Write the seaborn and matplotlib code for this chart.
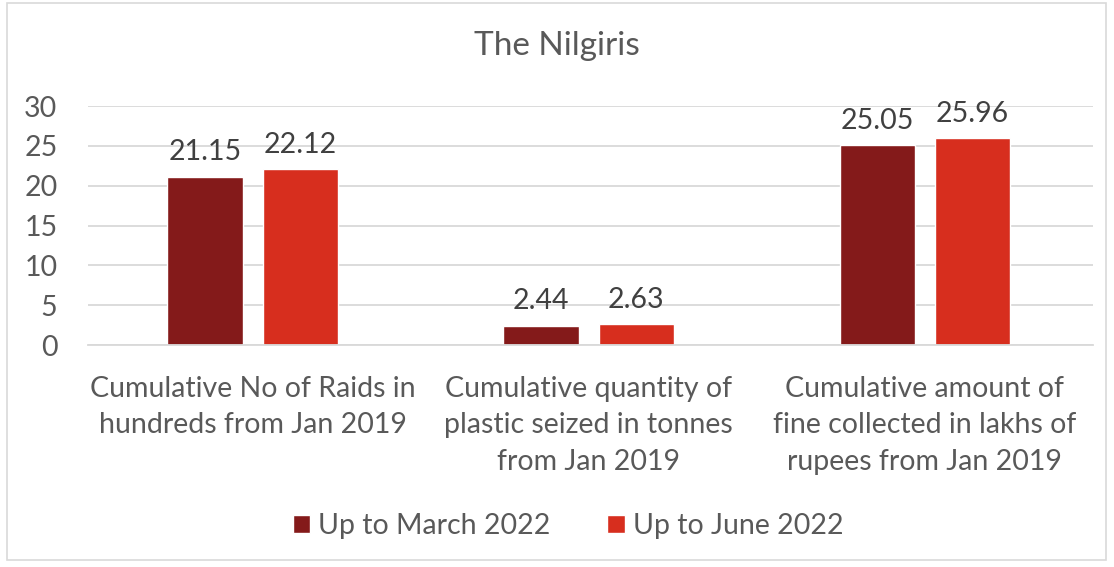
import numpy as np
import pandas as pd
import matplotlib
matplotlib.use('Agg')
import matplotlib.pyplot as plt
import seaborn as sns
from matplotlib.patches import Rectangle

# chart data
categories = ['Cumulative No of Raids in\nhundreds from Jan 2019',
              'Cumulative quantity of\nplastic seized in tonnes\nfrom Jan 2019',
              'Cumulative amount of\nfine collected in lakhs of\nrupees from Jan 2019']
series_names = ['Up to March 2022', 'Up to June 2022']
march_2022 = [21.15, 2.44, 25.05]
june_2022 = [22.12, 2.63, 25.96]
y_ticks = [0, 5, 10, 15, 20, 25, 30]

# long format table for seaborn
df = pd.DataFrame({
    'category': categories * 2,
    'series': [series_names[0]] * 3 + [series_names[1]] * 3,
    'value': march_2022 + june_2022,
})

sns.set_style('white')
plt.rcParams['font.family'] = ['Lato', 'DejaVu Sans']
text_color = '#595959'
colors = ['#841A1A', '#D72E1E']

fig = plt.figure(figsize=(11.14, 5.67), dpi=100)
ax = fig.add_axes([0.079, 0.3915, 0.902, 0.4215])

sns.barplot(data=df, x='category', y='value', hue='series', palette=colors,
            saturation=1, width=0.567, gap=0.21, ax=ax, legend=True)

# value labels on top of bars
for cont in ax.containers:
    ax.bar_label(cont, fmt='%.2f', padding=8, fontsize=20.5, color='#404040')

ax.set_ylim(0, 30)
ax.set_xlim(-0.49, 2.5)
ax.set_yticks(y_ticks)
ax.yaxis.grid(True, color='#D9D9D9', linewidth=1.3)
ax.set_axisbelow(True)
for s in ['top', 'right', 'left']:
    ax.spines[s].set_visible(False)
ax.spines['bottom'].set_color('#D9D9D9')
ax.spines['bottom'].set_linewidth(1.3)
ax.tick_params(axis='both', length=0, labelsize=20.5, labelcolor=text_color)
ax.tick_params(axis='y', pad=22)
ax.tick_params(axis='x', pad=22)
for lbl in ax.get_xticklabels():
    lbl.set_linespacing(1.5)
ax.set_xlabel('')
ax.set_ylabel('')

fig.suptitle('The Nilgiris', y=0.945, fontsize=24, color=text_color)

handles, labels = ax.get_legend_handles_labels()
ax.get_legend().remove()
fig.legend(handles, labels, loc='center', bbox_to_anchor=(0.51, 0.072), ncol=2,
           frameon=False, fontsize=20.5, labelcolor=text_color,
           handlelength=0.6, handleheight=0.6, handletextpad=0.3, columnspacing=2.0)

# light chart border
fig.patches.append(Rectangle((0.006, 0.012), 0.987, 0.982, transform=fig.transFigure,
                             fill=False, edgecolor='#D9D9D9', linewidth=1.2))

fig.savefig('out.png', dpi=100)
